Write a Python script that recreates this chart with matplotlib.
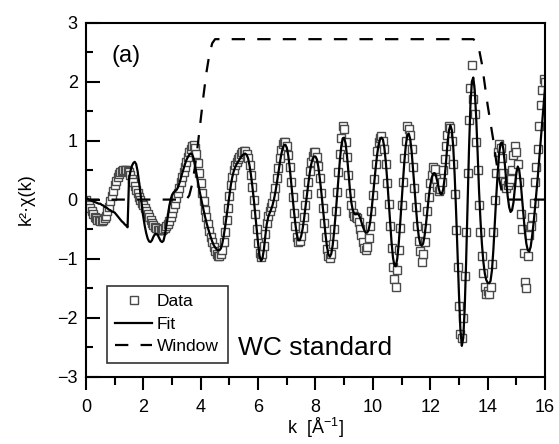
import numpy as np
import matplotlib
matplotlib.use('Agg')
from matplotlib import pyplot as plt
from matplotlib.ticker import MultipleLocator

plt.rcParams['font.family'] = ['Liberation Sans', 'DejaVu Sans']
plt.rcParams['mathtext.fontset'] = 'custom'
plt.rcParams['mathtext.rm'] = 'Liberation Sans'
plt.rcParams['mathtext.default'] = 'regular'

# k grid, 0.05 A^-1 steps
k = np.linspace(0, 16, 321)

data = [
    0.0, -0.05, -0.1, -0.15, -0.2, -0.25, -0.29, -0.32, -0.34, -0.35, -0.36, -0.36, -0.35, -0.32, -0.27, -0.2, -0.12, -0.03, 0.06, 0.15,
    0.24, 0.32, 0.39, 0.44, 0.47, 0.49, 0.5, 0.5, 0.5, 0.49, 0.46, 0.41, 0.35, 0.29, 0.23, 0.17, 0.11, 0.05, 0.0, -0.05,
    -0.1, -0.15, -0.2, -0.25, -0.3, -0.35, -0.39, -0.43, -0.46, -0.49, -0.51, -0.52, -0.52, -0.51, -0.5, -0.48, -0.45, -0.41, -0.36, -0.3,
    -0.23, -0.15, -0.07, 0.02, 0.11, 0.2, 0.29, 0.38, 0.47, 0.56, 0.64, 0.72, 0.8, 0.86, 0.9, 0.92, 0.88, 0.77, 0.62, 0.45,
    0.28, 0.12, -0.03, -0.17, -0.3, -0.42, -0.53, -0.63, -0.72, -0.8, -0.87, -0.92, -0.95, -0.96, -0.93, -0.85, -0.72, -0.55, -0.35, -0.14,
    0.06, 0.24, 0.39, 0.5, 0.58, 0.64, 0.69, 0.73, 0.77, 0.8, 0.82, 0.82, 0.78, 0.7, 0.58, 0.42, 0.22, -0.01, -0.25, -0.5,
    -0.73, -0.9, -0.97, -0.93, -0.78, -0.58, -0.4, -0.28, -0.2, -0.13, -0.05, 0.06, 0.2, 0.36, 0.53, 0.7, 0.84, 0.94, 0.98, 0.97,
    0.9, 0.76, 0.55, 0.3, 0.04, -0.22, -0.45, -0.63, -0.72, -0.71, -0.62, -0.48, -0.3, -0.1, 0.1, 0.3, 0.48, 0.63, 0.74, 0.8,
    0.8, 0.72, 0.57, 0.36, 0.12, -0.14, -0.4, -0.64, -0.84, -0.96, -0.99, -0.93, -0.76, -0.5, -0.2, 0.13, 0.46, 0.78, 1.05, 1.25,
    1.2, 0.98, 0.72, 0.42, 0.12, -0.1, -0.22, -0.27, -0.3, -0.32, -0.38, -0.5, -0.6, -0.72, -0.82, -0.86, -0.8, -0.65, -0.45, -0.2,
    0.08, 0.35, 0.6, 0.82, 0.97, 1.05, 1.07, 1.0, 0.85, 0.6, 0.28, -0.08, -0.45, -0.82, -1.15, -1.35, -1.48, -1.2, -0.85, -0.48,
    -0.1, 0.3, 0.7, 1.0, 1.25, 1.2, 1.1, 0.85, 0.55, 0.2, -0.12, -0.45, -0.7, -0.88, -1.06, -0.92, -0.72, -0.48, -0.2, 0.05,
    0.28, 0.42, 0.55, 0.52, 0.35, 0.22, 0.15, 0.18, 0.3, 0.5, 0.68, 0.9, 1.1, 1.25, 1.22, 1.0, 0.6, 0.1, -0.52, -1.15,
    -1.8, -2.28, -2.35, -2.0, -1.3, -0.55, 0.45, 1.35, 1.9, 2.28, 1.7, 1.45, 0.98, 0.5, -0.1, -0.55, -0.95, -1.25, -1.48, -1.6,
    -1.55, -1.6, -1.48, -1.1, -0.55, 0.0, 0.45, 0.8, 0.95, 0.88, 0.7, 0.45, 0.3, 0.2, 0.25, 0.3, 0.35, 0.5, 0.75, 0.9,
    0.8, 0.6, 0.3, -0.25, -0.5, -0.9, -1.4, -1.5, -0.95, -0.6, -0.45, -0.3, -0.05, 0.3, 0.55, 0.85, 1.25, 1.6, 1.85, 2.05,
    2.0,
]

fit = [
    0.03, 0.02, 0.0, -0.01, -0.02, -0.03, -0.04, -0.05, -0.06, -0.07, -0.07, -0.09, -0.1, -0.12, -0.13, -0.15, -0.17, -0.18, -0.2, -0.21,
    -0.22, -0.25, -0.28, -0.31, -0.34, -0.37, -0.39, -0.42, -0.44, -0.47, 0.35, 0.48, 0.57, 0.62, 0.64, 0.6, 0.48, 0.3, 0.1, -0.1,
    -0.3, -0.45, -0.57, -0.66, -0.71, -0.72, -0.69, -0.63, -0.59, -0.58, -0.6, -0.65, -0.7, -0.72, -0.7, -0.6, -0.45, -0.28, -0.12, 0.0,
    0.08, 0.12, 0.14, 0.16, 0.2, 0.27, 0.35, 0.44, 0.52, 0.6, 0.67, 0.72, 0.76, 0.78, 0.77, 0.7, 0.58, 0.44, 0.3, 0.17,
    0.05, -0.07, -0.18, -0.29, -0.39, -0.48, -0.56, -0.64, -0.71, -0.77, -0.81, -0.84, -0.86, -0.86, -0.83, -0.75, -0.62, -0.46, -0.28, -0.1,
    0.08, 0.25, 0.38, 0.48, 0.55, 0.6, 0.64, 0.68, 0.72, 0.75, 0.77, 0.78, 0.76, 0.7, 0.58, 0.42, 0.22, 0.0, -0.25, -0.5,
    -0.75, -0.95, -1.04, -1.0, -0.85, -0.62, -0.42, -0.3, -0.23, -0.17, -0.1, 0.0, 0.12, 0.27, 0.43, 0.6, 0.75, 0.86, 0.92, 0.93,
    0.88, 0.75, 0.55, 0.3, 0.05, -0.2, -0.42, -0.6, -0.69, -0.69, -0.62, -0.5, -0.33, -0.13, 0.07, 0.27, 0.45, 0.6, 0.69, 0.73,
    0.73, 0.68, 0.55, 0.36, 0.14, -0.1, -0.35, -0.6, -0.8, -0.93, -0.97, -0.92, -0.77, -0.54, -0.26, 0.05, 0.37, 0.67, 0.91, 1.04,
    1.05, 0.95, 0.73, 0.45, 0.17, -0.05, -0.18, -0.24, -0.25, -0.24, -0.25, -0.3, -0.38, -0.46, -0.52, -0.56, -0.56, -0.52, -0.4, -0.2,
    0.05, 0.3, 0.55, 0.77, 0.93, 1.02, 1.05, 1.02, 0.88, 0.64, 0.33, -0.02, -0.38, -0.72, -0.98, -1.12, -1.13, -1.0, -0.75, -0.42,
    -0.05, 0.32, 0.66, 0.93, 1.09, 1.12, 1.03, 0.82, 0.52, 0.2, -0.13, -0.42, -0.63, -0.75, -0.78, -0.75, -0.62, -0.42, -0.18, 0.05,
    0.24, 0.37, 0.44, 0.45, 0.4, 0.3, 0.18, 0.1, 0.09, 0.17, 0.36, 0.64, 0.95, 1.17, 1.26, 1.18, 0.9, 0.42, -0.2, -0.9,
    -1.6, -2.2, -2.48, -2.35, -1.85, -1.05, -0.1, 0.85, 1.6, 2.0, 2.07, 1.85, 1.4, 0.8, 0.15, -0.35, -0.75, -1.05, -1.25, -1.36,
    -1.41, -1.42, -1.38, -1.2, -0.85, -0.4, 0.05, 0.45, 0.78, 0.95, 0.97, 0.85, 0.6, 0.3, 0.05, -0.13, -0.21, -0.18, -0.05, 0.2,
    0.45, 0.56, 0.5, 0.3, 0.02, -0.28, -0.55, -0.75, -0.86, -0.88, -0.8, -0.62, -0.4, -0.15, 0.12, 0.4, 0.7, 1.0, 1.3, 1.6,
    1.9,
]

k_win = [0, 3.5, 3.6, 3.7, 3.8, 3.9, 4.0, 4.1, 4.2, 4.3, 4.4, 4.5,
         13.5, 13.6, 13.7, 13.8, 13.9, 14.0, 14.1, 14.2, 14.3, 14.4, 14.5, 14.6, 14.7, 16]
window = [0, 0, 0.07, 0.26, 0.56, 0.94, 1.36, 1.78, 2.16, 2.46, 2.65, 2.72,
          2.72, 2.68, 2.55, 2.3, 1.95, 1.6, 1.3, 1.0, 0.65, 0.35, 0.12, 0.02, 0, 0]

fig = plt.figure(figsize=(5.59, 4.44), dpi=100)
ax = fig.add_axes([0.1538, 0.152, 0.8212, 0.797])

ax.plot(k, data, ls='none', marker='s', ms=6, mfc='white', mec='#4a4a4a', mew=1.0, label='Data')
ax.plot(k, fit, color='black', lw=1.6, label='Fit')
ax.plot(k_win, window, color='black', lw=1.6, ls=(0, (6, 5.5)), label='Window')

ax.set_xlim(0, 16)
ax.set_ylim(-3, 3)
ax.xaxis.set_major_locator(MultipleLocator(2))
ax.xaxis.set_minor_locator(MultipleLocator(1))
ax.yaxis.set_major_locator(MultipleLocator(1))
ax.yaxis.set_minor_locator(MultipleLocator(0.5))
ax.tick_params(axis='x', which='both', direction='out', width=1.5, labelsize=13, pad=7)
ax.tick_params(axis='x', which='major', length=9)
ax.tick_params(axis='x', which='minor', length=5.5)
ax.tick_params(axis='y', which='both', direction='in', width=1.5, labelsize=13, pad=6)
ax.tick_params(axis='y', which='major', length=10)
ax.tick_params(axis='y', which='minor', length=5)
for s in ax.spines.values():
    s.set_linewidth(1.5)

ax.set_xlabel('k  [Å$^{-1}$]', fontsize=13, labelpad=0)
ax.set_ylabel('k²·χ(k)', fontsize=13, labelpad=16)

ax.text(0.9, 2.33, '(a)', fontsize=17, va='baseline')
ax.text(5.3, -2.64, 'WC standard', fontsize=19, va='baseline')

leg = ax.legend(loc='lower left', bbox_to_anchor=(0.045, 0.038), borderaxespad=0,
                fontsize=12.5, frameon=True, fancybox=False, edgecolor='black',
                handlelength=2.1, handletextpad=0.3, labelspacing=0.42, borderpad=0.5)
leg.get_frame().set_linewidth(1.2)

plt.savefig('out.png', dpi=100)
